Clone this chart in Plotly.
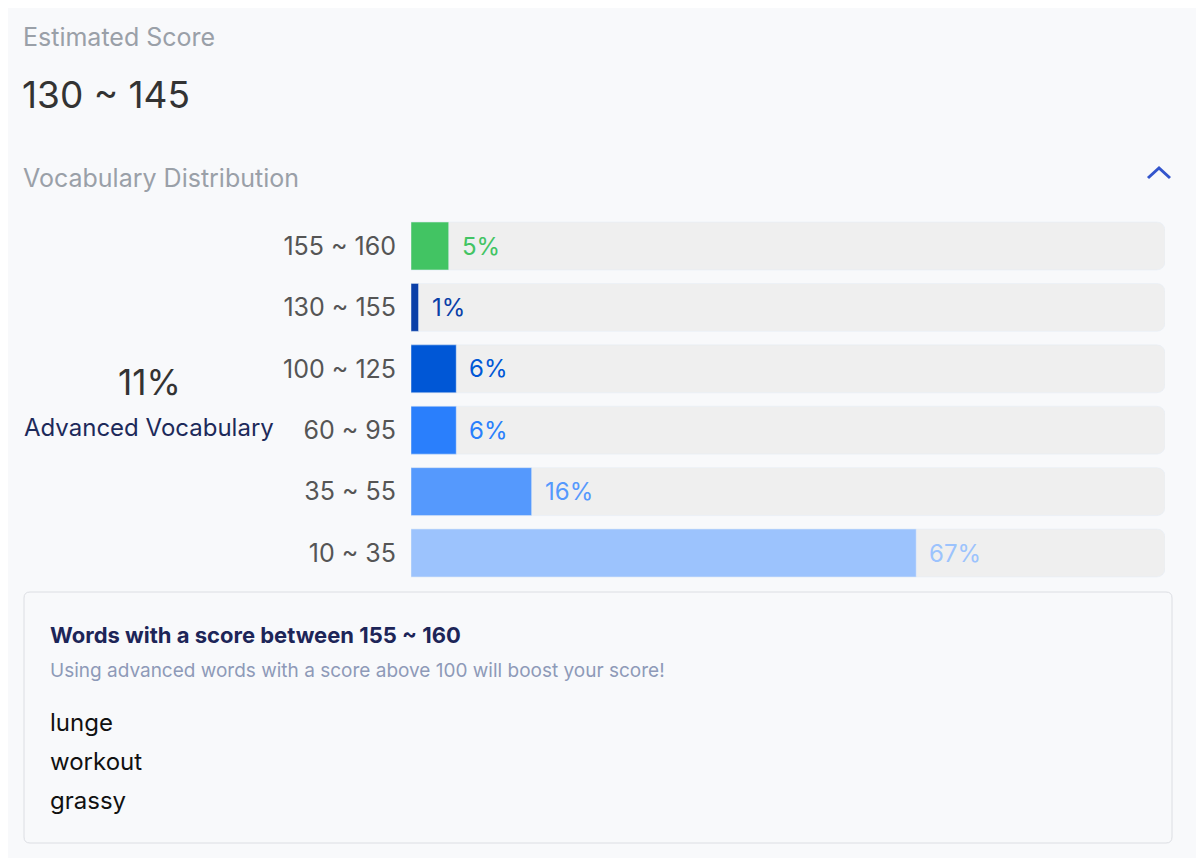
import plotly.graph_objects as go

W, H = 1204, 858
OFF = 8  # page margin compensation
categories = ["155 ~ 160", "130 ~ 155", "100 ~ 125", "60 ~ 95", "35 ~ 55", "10 ~ 35"]
values = [5, 1, 6, 6, 16, 67]
colors = ["#42c463", "#0a3fa8", "#0057d6", "#2a7ffc", "#5599fd", "#9cc3fd"]
label_colors = ["#42c463", "#0a3fa8", "#0057d6", "#2a7ffc", "#5599fd", "#9cc3fd"]
words = ["lunge", "workout", "grassy"]
track = [100] * len(categories)

def px(x): return (x - OFF) / W
def py(y): return 1 - (y - OFF) / H

fig = go.Figure()
fig.add_trace(go.Bar(y=categories, x=track, orientation="h",
                     marker=dict(color="#efefef", cornerradius=8), hoverinfo="skip", width=0.78))
fig.add_trace(go.Bar(y=categories, x=values, orientation="h",
                     marker=dict(color=colors, cornerradius=8), width=0.78))

ann = []
for c, v, lc in zip(categories, values, label_colors):
    ann.append(dict(x=v, y=c, xref="x", yref="y", text=f"{v}%", showarrow=False,
                    xanchor="left", xshift=11, font=dict(size=24, color=lc, family="Inter")))

def t(x, y, text, size, color, anchor="left", weight="normal"):
    ann.append(dict(x=px(x), y=py(y), xref="paper", yref="paper", text=text, showarrow=False,
                    xanchor=anchor, yanchor="middle", xshift=-2 if anchor == "left" else 0,
                    font=dict(size=size, color=color, family="Inter", weight=weight)))

t(23, 37, "Estimated Score", 25, "#9aa0a8")
t(22, 95, "130 ~ 145", 37, "#333333")
t(23, 178, "Vocabulary Distribution", 25, "#9aa0a8")
t(149, 382, "11%", 35, "#333333", anchor="center")
t(149, 427, "Advanced Vocabulary", 24, "#1d2a5a", anchor="center")
t(50, 635, "Words with a score between 155 ~ 160", 22, "#1d2558", weight="bold")
t(50, 670, "Using advanced words with a score above 100 will boost your score!", 19, "#8e9ab8")
for i, w in enumerate(words):
    t(50, 722 + 39 * i, w, 24, "#111111")

r = 6
x0, x1, y0, y1 = px(24), px(1172), py(592), py(843)
rx, ry = r / W, r / H
path = (f"M {x0+rx},{y0} L {x1-rx},{y0} Q {x1},{y0} {x1},{y0-ry} L {x1},{y1+ry} "
        f"Q {x1},{y1} {x1-rx},{y1} L {x0+rx},{y1} Q {x0},{y1} {x0},{y1+ry} L {x0},{y0-ry} "
        f"Q {x0},{y0} {x0+rx},{y0} Z")
shapes = [
    dict(type="path", xref="paper", yref="paper", path=path, line=dict(color="#dcdee3", width=1),
         fillcolor="#f8f9fb", layer="below"),
    dict(type="path", xref="paper", yref="paper",
         path=f"M {px(1148)},{py(178)} L {px(1159)},{py(168)} L {px(1170)},{py(178)}",
         line=dict(color="#3355cc", width=3)),
]

fig.update_layout(
    width=W, height=H, margin=dict(l=0, r=0, t=0, b=0),
    paper_bgcolor="#f8f9fb", plot_bgcolor="rgba(0,0,0,0)",
    barmode="overlay", showlegend=False,
    xaxis=dict(domain=[px(411), px(1165)], range=[0, 100], visible=False, fixedrange=True),
    yaxis=dict(domain=[py(583.7), py(215.3)], autorange="reversed", showgrid=False,
               ticks="", ticklabelstandoff=14, tickfont=dict(size=25, color="#555555", family="Inter"),
               fixedrange=True),
    annotations=ann, shapes=shapes, font=dict(family="Inter"),
)
fig.write_html("out.html")
